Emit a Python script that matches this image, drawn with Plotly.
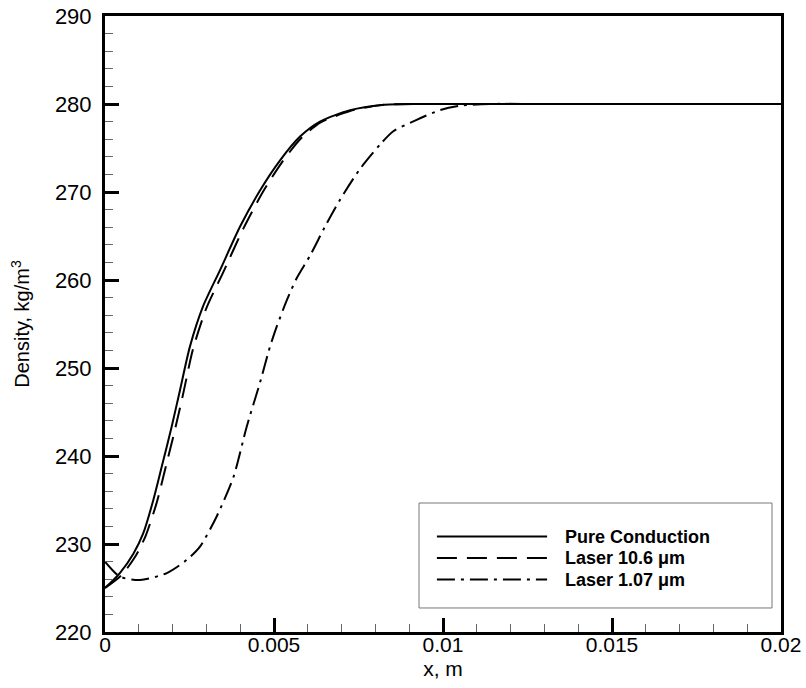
import plotly.graph_objects as go

# ---- data ----
x_pure = [0, 0.00044, 0.00084, 0.00113, 0.00143, 0.00168, 0.00197, 0.00222, 0.00251,
          0.0029, 0.0034, 0.004, 0.00459, 0.00518, 0.00577, 0.00636, 0.00725, 0.0082,
          0.0093, 0.011, 0.015, 0.02]
y_pure = [225.0, 226.7, 228.9, 231.2, 235.0, 238.8, 243.3, 247.5, 252.4,
          257.0, 261.1, 266.1, 270.2, 273.6, 276.3, 278.0, 279.3, 279.9,
          280.0, 280.0, 280.0, 280.0]

x_106 = [0, 0.0005, 0.0009, 0.0012, 0.00153, 0.00178, 0.00207, 0.00232, 0.0026,
         0.003, 0.0035, 0.0041, 0.00467, 0.00524, 0.0058, 0.00638, 0.00725, 0.0082,
         0.0093, 0.011, 0.015, 0.02]
y_106 = [225.0, 226.5, 228.6, 230.9, 234.7, 238.5, 243.0, 247.2, 252.1,
         256.8, 260.9, 265.9, 270.0, 273.4, 276.1, 277.9, 279.2, 279.9,
         280.0, 280.0, 280.0, 280.0]

x_107 = [0, 0.00044, 0.00104, 0.00183, 0.00242, 0.00281, 0.0033, 0.0038, 0.00419,
         0.00459, 0.00488, 0.00508, 0.00538, 0.00567, 0.00607, 0.0065, 0.00695,
         0.00754, 0.00814, 0.00853, 0.00922, 0.00991, 0.0105, 0.0114, 0.013, 0.02]
y_107 = [228.0, 226.3, 225.9, 226.7, 228.2, 229.7, 233.1, 237.6, 243.3,
         248.4, 252.4, 254.7, 257.7, 260.2, 262.8, 266.0, 269.1,
         272.6, 275.4, 276.9, 278.2, 279.3, 279.8, 280.0, 280.0, 280.0]

series_names = ["Pure Conduction", "Laser 10.6 \u03bcm", "Laser 1.07 \u03bcm"]
series_dash = ["solid", "20px,10px", "18px,6px,3px,6px"]

x_ticks = [0, 0.005, 0.01, 0.015, 0.02]
x_tick_text = ["0", "0.005", "0.01", "0.015", "0.02"]
y_ticks = [220, 230, 240, 250, 260, 270, 280, 290]

FONT = "Liberation Sans, Arial, Helvetica, sans-serif"

fig = go.Figure()
for xs, ys, dash in zip([x_pure, x_106, x_107], [y_pure, y_106, y_107], series_dash):
    fig.add_trace(go.Scatter(x=xs, y=ys, mode="lines",
                             line=dict(color="black", width=2, dash=dash,
                                       shape="spline", smoothing=0.7),
                             showlegend=False))

# manual legend (Tecplot-style box with long line samples)
fig.add_shape(type="rect", xref="paper", yref="paper", x0=0.4645, x1=0.9867,
              y0=0.039, y1=0.2094, line=dict(color="#777777", width=1),
              fillcolor="white")
row_y = [0.155, 0.1201, 0.0852]
for name, dash, ry in zip(series_names, series_dash, row_y):
    fig.add_shape(type="line", xref="paper", yref="paper", x0=0.491, x1=0.654,
                  y0=ry, y1=ry, line=dict(color="black", width=2, dash=dash))
    fig.add_annotation(xref="paper", yref="paper", x=0.6775, y=ry, text="<b>" + name + "</b>",
                       showarrow=False, xanchor="left", yanchor="middle",
                       font=dict(family=FONT, size=18, color="black"))

fig.update_layout(
    width=806, height=688,
    margin=dict(l=105, r=25, t=16, b=56),
    paper_bgcolor="white", plot_bgcolor="white",
    font=dict(family=FONT, color="black"),
    xaxis=dict(range=[0, 0.02], tickvals=x_ticks, ticktext=x_tick_text,
               automargin=False,
               showgrid=False, zeroline=False, showline=True, mirror=True,
               linecolor="black", linewidth=3,
               ticks="inside", ticklen=14, tickwidth=3, tickcolor="black",
               tickfont=dict(family=FONT, size=21),
               ticklabelstandoff=-8,
               minor=dict(dtick=0.001, ticks="inside", ticklen=8, tickwidth=1,
                          tickcolor="#666666", showgrid=False),
               title=dict(text="x, m", font=dict(family=FONT, size=21), standoff=7)),
    yaxis=dict(range=[220, 290], tickvals=y_ticks,
               automargin=False,
               showgrid=False, zeroline=False, showline=True, mirror=True,
               linecolor="black", linewidth=3,
               ticks="inside", ticklen=14, tickwidth=3, tickcolor="black",
               tickfont=dict(family=FONT, size=22),
               ticklabelstandoff=6,
               minor=dict(dtick=2, ticks="inside", ticklen=8, tickwidth=1,
                          tickcolor="#666666", showgrid=False),
               title=dict(text="Density, kg/m<sup>3</sup>", font=dict(family=FONT, size=20),
                          standoff=20)),
)

fig.write_html("out.html")
